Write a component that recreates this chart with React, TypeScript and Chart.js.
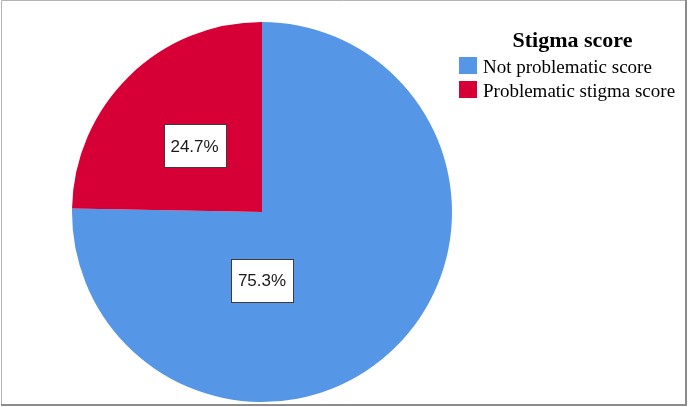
import React, { useEffect, useRef } from "react";
import { Chart, registerables } from "chart.js";

Chart.register(...registerables);

// ---- data ----
const categories = ["Not problematic score", "Problematic stigma score"];
const percentages = [75.3, 24.7];
const legendTitle = "Stigma score";
const sliceColors = ["#5596E6", "#D70036"];
// label placement per slice: angle (deg, canvas coords, clockwise from 3 o'clock) and fraction of radius
const labelAngles = [90, 224.4];
const labelRadii = [0.358, 0.497];

const W = 689;
const H = 407;

const decorPlugin = {
  id: "decor",
  beforeDraw(chart: any) {
    const ctx = chart.ctx;
    ctx.save();
    ctx.fillStyle = "#ffffff";
    ctx.fillRect(0, 0, chart.width, chart.height);
    ctx.restore();
  },
  afterDraw(chart: any) {
    const ctx = chart.ctx;
    const ca = chart.chartArea;
    ctx.save();
    // frame
    ctx.lineWidth = 1;
    ctx.strokeStyle = "#b4b4b4";
    ctx.beginPath();
    ctx.moveTo(1.5, 405);
    ctx.lineTo(1.5, 0.5);
    ctx.lineTo(686, 0.5);
    ctx.stroke();
    ctx.strokeStyle = "#8c8c8c";
    ctx.lineWidth = 2;
    ctx.beginPath();
    ctx.moveTo(686, 0);
    ctx.lineTo(686, 405);
    ctx.lineTo(1, 405);
    ctx.stroke();

    // value labels
    const meta = chart.getDatasetMeta(0);
    ctx.font = '17px "Liberation Sans", Arial, sans-serif';
    ctx.textAlign = "center";
    ctx.textBaseline = "middle";
    meta.data.forEach((arc: any, i: number) => {
      const { x, y, outerRadius } = arc.getProps(["x", "y", "outerRadius"], true);
      const a = (labelAngles[i] * Math.PI) / 180;
      const r = labelRadii[i] * outerRadius;
      const cx = x + Math.cos(a) * r;
      const cy = y + Math.sin(a) * r;
      const text = percentages[i].toFixed(1) + "%";
      const w = Math.round(ctx.measureText(text).width + 14);
      const h = 43;
      const bx = Math.round(cx - w / 2) + 0.5;
      const by = Math.round(cy - h / 2) + 0.5;
      ctx.fillStyle = "#ffffff";
      ctx.fillRect(bx, by, w, h);
      ctx.strokeStyle = "#3c3c3c";
      ctx.lineWidth = 1;
      ctx.strokeRect(bx, by, w, h);
      ctx.fillStyle = "#1a1a1a";
      ctx.fillText(text, cx, cy + 1);
    });

    // legend
    const left = ca.right + 7;
    ctx.textAlign = "center";
    ctx.textBaseline = "alphabetic";
    ctx.fillStyle = "#000000";
    ctx.font = 'bold 22px "Liberation Serif", "Times New Roman", serif';
    ctx.fillText(legendTitle, left + 113.5, 47);
    ctx.textAlign = "left";
    ctx.font = '19px "Liberation Serif", "Times New Roman", serif';
    const labels = chart.data.labels as string[];
    const colors = chart.data.datasets[0].backgroundColor as string[];
    labels.forEach((lab, i) => {
      const top = 57 + i * 23.5;
      ctx.fillStyle = colors[i];
      ctx.fillRect(left, Math.round(top), 18, 17);
      ctx.fillStyle = "#000000";
      ctx.fillText(lab, left + 24, Math.round(top) + 16);
    });
    ctx.restore();
  },
};

export default function App() {
  const ref = useRef<HTMLCanvasElement | null>(null);
  useEffect(() => {
    document.body.style.margin = "0";
    const canvas = ref.current;
    if (!canvas) return;
    const chart = new Chart(canvas, {
      type: "pie",
      data: {
        labels: categories,
        datasets: [
          {
            data: percentages,
            backgroundColor: sliceColors,
            borderWidth: 0,
          },
        ],
      },
      options: {
        responsive: false,
        animation: false,
        devicePixelRatio: 1,
        layout: { padding: { left: 72, top: 22, right: 237, bottom: 5 } },
        plugins: {
          legend: { display: false },
          tooltip: { enabled: false },
        },
      },
      plugins: [decorPlugin],
    });
    return () => chart.destroy();
  }, []);
  return (
    <div style={{ width: W, height: H }}>
      <canvas ref={ref} width={W} height={H} style={{ display: "block", width: W, height: H }} />
    </div>
  );
}
